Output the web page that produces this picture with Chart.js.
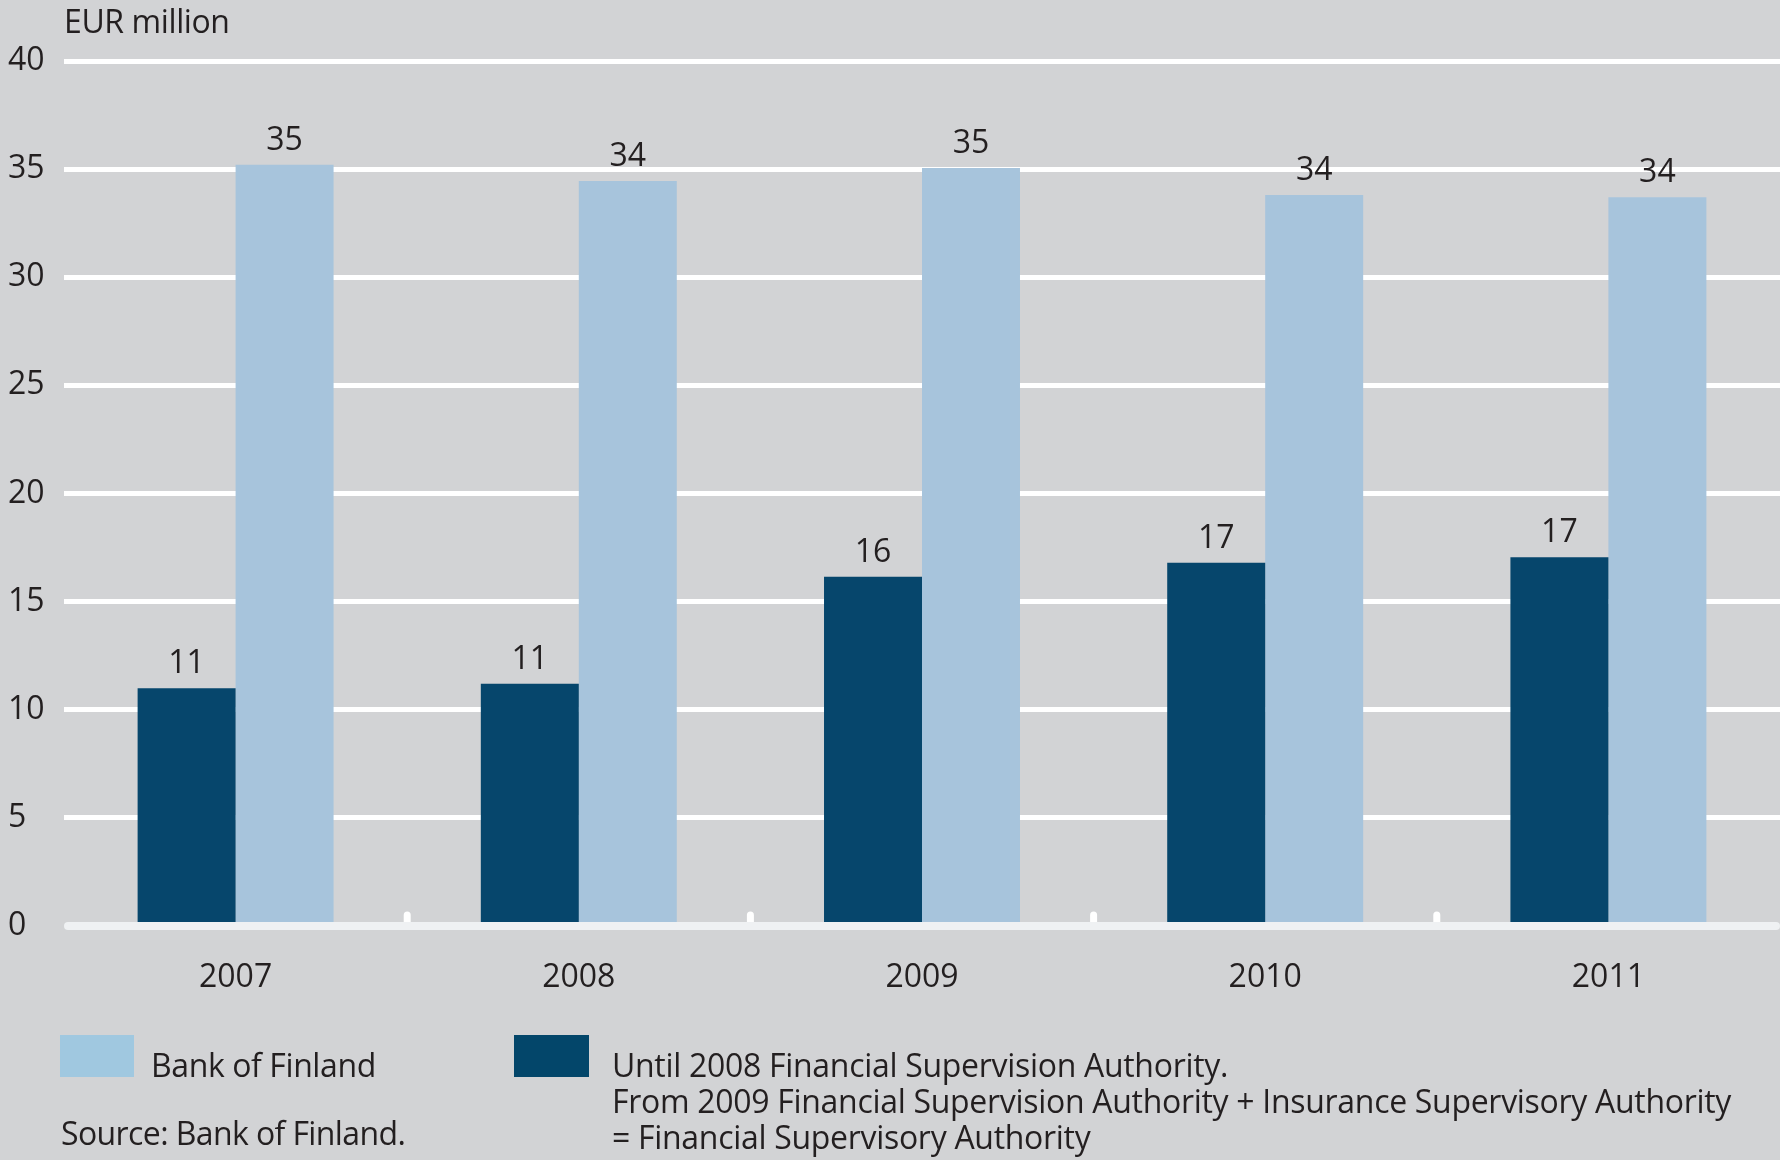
<!DOCTYPE html>
<html>
<head>
<meta charset="utf-8">
<script src="https://cdn.jsdelivr.net/npm/chart.js@4/dist/chart.umd.min.js"></script>
<style>
  html, body { margin: 0; padding: 0; background: #d2d3d5; }
  #wrap { position: relative; width: 1780px; height: 1160px; overflow: hidden; font-family: "Open Sans", sans-serif; color: #231f20; }
  canvas { position: absolute; left: 0; top: 0; }
  .t { position: absolute; font-size: 32px; line-height: 36px; white-space: nowrap; letter-spacing: -0.4px; }
  .box { position: absolute; }
</style>
</head>
<body>
<div id="wrap">
  <canvas id="c" width="1780" height="1160"></canvas>
  <div class="t" style="left:64px; top:3px;">EUR million</div>
  <div class="box" style="left:60px; top:1035px; width:74px; height:42px; background:#a0c8e0;"></div>
  <div class="t" style="left:151px; top:1047px;">Bank of Finland</div>
  <div class="box" style="left:514px; top:1035px; width:75px; height:42px; background:#03466a;"></div>
  <div class="t" style="left:612px; top:1047px; letter-spacing:-0.3px;">Until 2008 Financial Supervision Authority.<br>From 2009 Financial Supervision Authority + Insurance Supervisory Authority<br>= Financial Supervisory Authority</div>
  <div class="t" style="left:61px; top:1115px; letter-spacing:-0.6px;">Source: Bank of Finland.</div>
</div>
<script>
const categories = ['2007', '2008', '2009', '2010', '2011'];
const fsaValues = [11.0, 11.2, 16.15, 16.8, 17.05];
const bofValues = [35.2, 34.45, 35.05, 33.8, 33.7];
const yTicks = [0, 5, 10, 15, 20, 25, 30, 35, 40];

const TEXT = '#231f20';
const FONT = '"Open Sans", sans-serif';

const decor = {
  id: 'decor',
  afterDatasetsDraw(chart) {
    const { ctx, chartArea, scales: { x, y } } = chart;
    const y0 = y.getPixelForValue(0);
    ctx.save();
    ctx.lineCap = 'round';
    // category separator marks
    ctx.strokeStyle = '#ffffff';
    ctx.lineWidth = 7;
    for (let i = 0; i < categories.length - 1; i++) {
      const px = (x.getPixelForValue(i) + x.getPixelForValue(i + 1)) / 2;
      ctx.beginPath();
      ctx.moveTo(px, y0 - 11);
      ctx.lineTo(px, y0);
      ctx.stroke();
    }
    // zero axis line
    ctx.strokeStyle = '#eff1f3';
    ctx.lineWidth = 8;
    ctx.beginPath();
    ctx.moveTo(chartArea.left + 4, y0);
    ctx.lineTo(chartArea.right - 4, y0);
    ctx.stroke();
    // value labels
    ctx.font = '32px ' + FONT;
    ctx.fillStyle = TEXT;
    ctx.textAlign = 'center';
    ctx.textBaseline = 'alphabetic';
    chart.data.datasets.forEach((ds, di) => {
      chart.getDatasetMeta(di).data.forEach((bar, i) => {
        ctx.fillText(String(Math.round(ds.data[i])), bar.x, bar.y - 15);
      });
    });
    ctx.restore();
  }
};

new Chart(document.getElementById('c'), {
  type: 'bar',
  data: {
    labels: categories,
    datasets: [
      { label: 'Until 2008 Financial Supervision Authority. From 2009 Financial Supervision Authority + Insurance Supervisory Authority = Financial Supervisory Authority',
        data: fsaValues, backgroundColor: '#06466c', borderWidth: 0 },
      { label: 'Bank of Finland', data: bofValues, backgroundColor: '#a7c4dc', borderWidth: 0 }
    ]
  },
  options: {
    responsive: false,
    devicePixelRatio: 1,
    animation: false,
    layout: { padding: { left: 8, top: 61, right: 0, bottom: 0 } },
    datasets: { bar: { barPercentage: 1, categoryPercentage: 0.571 } },
    plugins: { legend: { display: false }, tooltip: { enabled: false }, title: { display: false } },
    scales: {
      x: {
        grid: { display: false },
        border: { display: false },
        ticks: { color: TEXT, font: { family: FONT, size: 32 }, padding: 25, maxRotation: 0 },
        afterFit(scale) { scale.height = 234; }
      },
      y: {
        min: 0, max: 40,
        afterBuildTicks(scale) { scale.ticks = yTicks.map(v => ({ value: v })); },
        grid: {
          color: c => (c.tick && c.tick.value === 0) ? 'rgba(0,0,0,0)' : '#ffffff',
          lineWidth: 5,
          drawTicks: false
        },
        border: { display: false },
        ticks: { color: TEXT, font: { family: FONT, size: 32 }, crossAlign: 'far', padding: 0 },
        afterFit(scale) { scale.width = 56; }
      }
    }
  },
  plugins: [decor]
});
</script>
</body>
</html>
